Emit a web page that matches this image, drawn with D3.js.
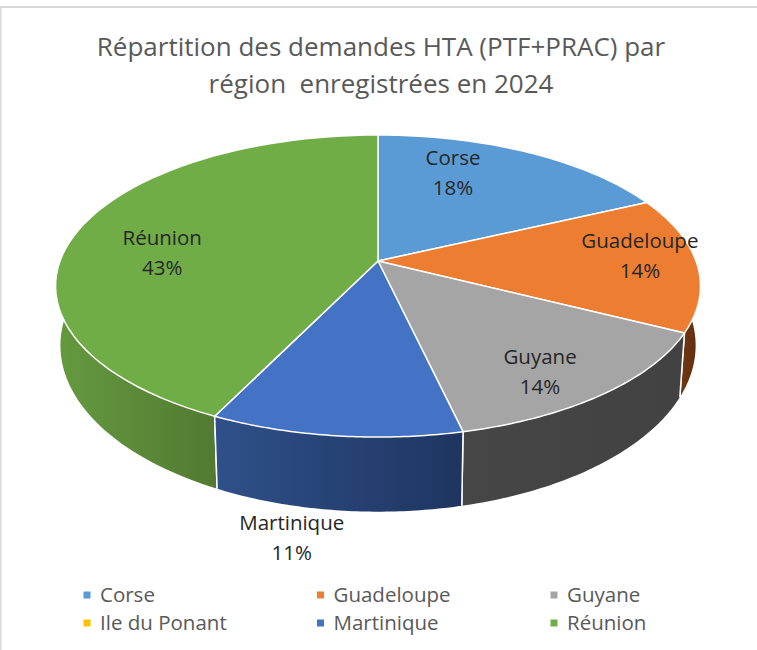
<!DOCTYPE html>
<html><head><meta charset="utf-8">
<script src="https://cdn.jsdelivr.net/npm/d3@7/dist/d3.min.js"></script>
<style>html,body{margin:0;padding:0;background:#fff}svg{display:block}text{font-family:"Open Sans",sans-serif}</style>
</head><body><svg id="c" width="757" height="650"></svg>
<script>
const categories = ["Corse","Guadeloupe","Guyane","Ile du Ponant","Martinique","Réunion"];
const values = [18, 14.49, 13.91, 0, 10.8, 42.8];
const topColors = ["#5b9bd5","#ed7d31","#a5a5a5","#ffc000","#4472c4","#70ad47"];
const wallLeft = ["#3a6ea0","#6e3611","#464646","#997300","#2f5089","#659a3f"];
const wallRight = ["#2a5078","#5c2c0c","#424242","#7f6000","#1e3560","#527a33"];
const titleLines = ["Répartition des demandes HTA (PTF+PRAC) par","région  enregistrées en 2024"];
const labelAngle = [21.5, 87.6, 146, 0, 188.2, 274.6];
const labelRadius = [.715, .829, .81, 0, 1.45, .687];

const W = 757, cx = 378, cy = 261, R = 318, S = 146.9, k = .1656;
const svg = d3.select("#c");
svg.append("rect").attr("width",W).attr("height",650).attr("fill","#fff");
svg.append("path").attr("d",`M0.5,650V7H${W}`).attr("fill","none").attr("stroke","#d9d9d9").attr("stroke-width",2);

// perspective projection of the disc
const proj = (a, r=1) => {
  const u = Math.sin(a)*r, v = -Math.cos(a)*r, d = 1 - k*v;
  return [cx + R*u/d, cy + S*v/d];
};
const base = (a) => {
  const [x,y] = proj(a);
  return [cx + (x-cx)*.985, y*1.1 - cy*.1 + 57];
};
const line = d3.line();
const arcPts = (f,a0,a1) => d3.range(0,61).map(i => f(a0+(a1-a0)*i/60));

const arcs = d3.pie().sort(null).value(d=>d).startAngle(0).endAngle(2*Math.PI)(values);
const defs = svg.append("defs");
const slices = arcs.map((a,i)=>({...a,i})).filter(a=>a.value>0);

// walls
const order = slices.slice().sort((p,q)=>Math.abs((p.startAngle+p.endAngle)/2-Math.PI)>Math.abs((q.startAngle+q.endAngle)/2-Math.PI)?-1:1);
order.forEach(a=>{
  const topA = arcPts(proj,a.startAngle,a.endAngle);
  const botA = arcPts(base,a.startAngle,a.endAngle);
  const front = d3.range(0,61).map(i=>a.startAngle+(a.endAngle-a.startAngle)*i/60).filter(t=>Math.cos(t)<0.1).map(t=>proj(t)[0]);
  const [x0,x1] = d3.extent(front.length?front:topA.map(p=>p[0]));
  const id = "w"+a.i;
  const g = defs.append("linearGradient").attr("id",id).attr("gradientUnits","userSpaceOnUse")
    .attr("x1",x0).attr("x2",x1).attr("y1",0).attr("y2",0);
  g.append("stop").attr("offset",0).attr("stop-color",wallLeft[a.i]);
  g.append("stop").attr("offset",1).attr("stop-color",wallRight[a.i]);
  svg.append("path").attr("d",line(topA.concat(botA.reverse()))+"Z")
    .attr("fill",`url(#${id})`).attr("stroke","none");
  [a.startAngle,a.endAngle].forEach(t=>{
    if (Math.cos(t)<0.1) svg.append("path").attr("d",line([proj(t),base(t)]))
      .attr("stroke","#fff").attr("stroke-width",1.5).attr("fill","none");
  });
});
// top faces
slices.forEach(a=>{
  const pts = [[cx,cy]].concat(arcPts(proj,a.startAngle,a.endAngle));
  svg.append("path").attr("d",line(pts)+"Z").attr("fill",topColors[a.i])
    .attr("stroke","#fff").attr("stroke-width",1.5).attr("stroke-linejoin","round");
});
// data labels
const pct = d3.format(".0f"), total = d3.sum(values);
slices.forEach(a=>{
  const [x,y] = proj(labelAngle[a.i]*Math.PI/180,labelRadius[a.i]);
  const t = svg.append("text").attr("text-anchor","middle").attr("fill","#262626").attr("font-size",20.5);
  t.append("tspan").attr("x",x).attr("y",y-8).text(categories[a.i]);
  t.append("tspan").attr("x",x).attr("y",y+22).text(pct(a.value/total*100)+"%");
});
// title
svg.append("g").selectAll("text").data(titleLines).join("text")
  .attr("x",381).attr("y",(d,i)=>56+i*37).attr("text-anchor","middle")
  .attr("fill","#595959").attr("font-size",26)
  .style("white-space","pre").text(d=>d);
// legend
const col = d3.scalePoint().domain([0,1,2]).range([87,554]);
const row = d3.scalePoint().domain([0,1]).range([595,623]);
const leg = svg.append("g").selectAll("g").data(categories).join("g")
  .attr("transform",(d,i)=>`translate(${col(i%3)},${row(Math.floor(i/3))})`);
leg.append("rect").attr("x",-3.5).attr("y",-3.5).attr("width",7).attr("height",7).attr("fill",(d,i)=>topColors[i]);
leg.append("text").attr("x",13).attr("y",7).attr("fill","#595959").attr("font-size",20.5).text(d=>d);
</script></body></html>
